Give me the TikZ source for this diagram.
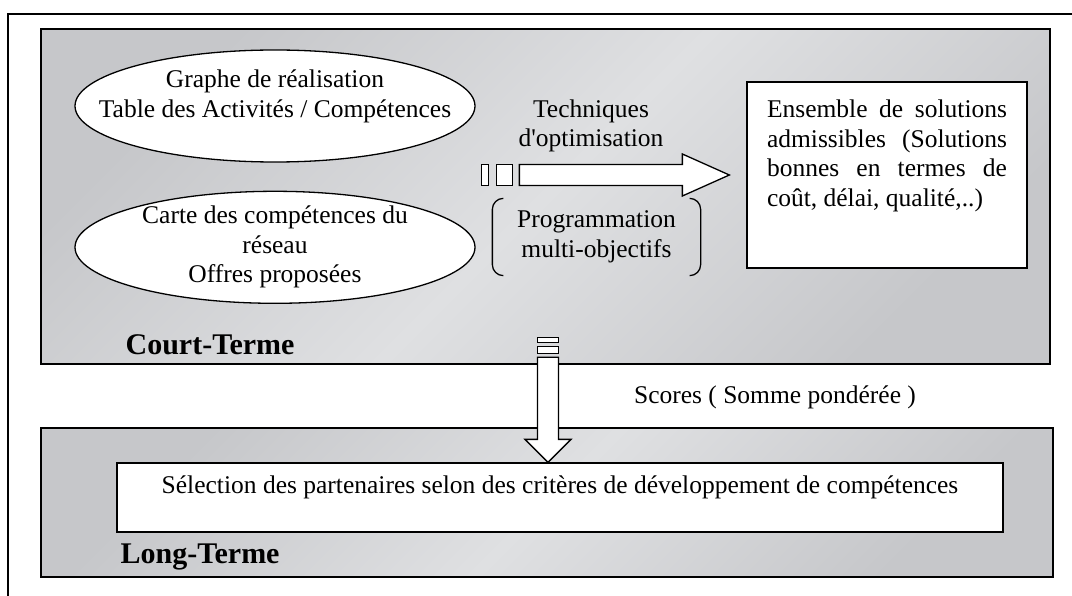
\documentclass[tikz,border=0pt]{standalone}
\usepackage{fontspec}
\setmainfont{Liberation Serif}
\usetikzlibrary{
  positioning,
  calc,
  shapes.geometric
}
\definecolor{paneldark}{HTML}{C6C7CA}
\definecolor{panellight}{HTML}{DFE0E2}

\begin{document}
\begin{tikzpicture}[
  x=1pt, y=-1pt,
  line width=1.3pt,
  every node/.style={font=\fontsize{25.5}{29.5}\selectfont, inner sep=0pt},
  panel/.style={draw, rectangle, top color=paneldark, bottom color=paneldark,
    middle color=panellight, shading angle=45},
  bubble/.style={draw, ellipse, fill=white, minimum width=400pt, minimum height=112pt},
  whitebox/.style={draw, rectangle, fill=white},
  termlabel/.style={font=\fontsize{30}{34}\selectfont\bfseries, anchor=base west},
  blockarrow/.style={draw, fill=white, line join=miter},
  parenline/.style={rounded corners=11pt}
]
  \useasboundingbox (0,0) rectangle (1072,596);

  % Frame
  \draw (8,596) -- (8,14) -- (1072,14);

  % Panels
  \node[panel, minimum width=1009pt, minimum height=335pt] (court) at (545.5,196.5) {};
  \node[panel, minimum width=1012pt, minimum height=149pt] (long) at (547,502.5) {};
  \node[termlabel] (courtlbl) at (125,355) {Court-Terme};
  \node[termlabel] (longlbl) at (120,563) {Long-Terme};

  % Inputs
  \node[bubble] (graphe) at (275,106) {};
  \node[bubble, below=28pt of graphe] (carte) {};
  \node[align=center] (graphetxt) at ([yshift=9.5pt]graphe.center)
    {Graphe de réalisation\\Table des Activités / Compétences};
  \node[align=center] (cartetxt) at (carte.center)
    {Carte des compétences du\\réseau\\Offres proposées};

  % Solutions
  \node[whitebox, minimum width=280pt, minimum height=186pt] (solutions) at (887,175) {};
  \node[text width=240pt, align=justify, anchor=north] (soltxt) at ([yshift=-18pt]solutions.north)
    {Ensemble de solutions\linebreak admissibles (Solutions\linebreak
     bonnes en termes de\linebreak coût, délai, qualité,..)};

  % Optimisation
  \node[align=center] (techtxt) at (591,126) {Techniques\\d\textquotesingle optimisation};
  \node[minimum width=207pt, minimum height=76pt, align=center] (prog) at (596.5,237)
    {Programmation\\multi-objectifs};
  \draw[parenline] ([xshift=11pt]prog.north west) -- (prog.north west)
    -- (prog.south west) -- ++(11,0);
  \draw[parenline] ([xshift=-11pt]prog.north east) -- (prog.north east)
    -- (prog.south east) -- ++(-11,0);

  \coordinate (htip) at ([xshift=-17pt]solutions.west);
  \draw[blockarrow] (htip) -- ++(-47,-21) -- ++(0,10.5) -- ++(-163,0)
    -- ++(0,21) -- ++(163,0) -- ++(0,10.5) -- cycle;
  \draw[blockarrow] ($(htip)+(-233,-10.5)$) rectangle ++(16,21);
  \draw[blockarrow] ($(htip)+(-248,-10.5)$) rectangle ++(7,21);

  % Selection
  \node[whitebox, minimum width=886pt, minimum height=69pt] (selection) at (560,497.5) {};
  \node (selectxt) at ([yshift=10.5pt]selection.center)
    {Sélection des partenaires selon des critères de développement de compétences};

  \coordinate (vtip) at ([xshift=-12pt]selection.north);
  \draw[blockarrow] (vtip) -- ++(-23,-23) -- ++(12.5,0) -- ++(0,-82)
    -- ++(21,0) -- ++(0,82) -- ++(12.5,0) -- cycle;
  \draw[blockarrow] ($(vtip)+(-10.5,-116)$) rectangle ++(21,7);
  \draw[blockarrow] ($(vtip)+(-10.5,-125)$) rectangle ++(21,5);
  \node[anchor=base] (scores) at (775,403) {Scores ( Somme pondérée )};

\end{tikzpicture}
\end{document}
